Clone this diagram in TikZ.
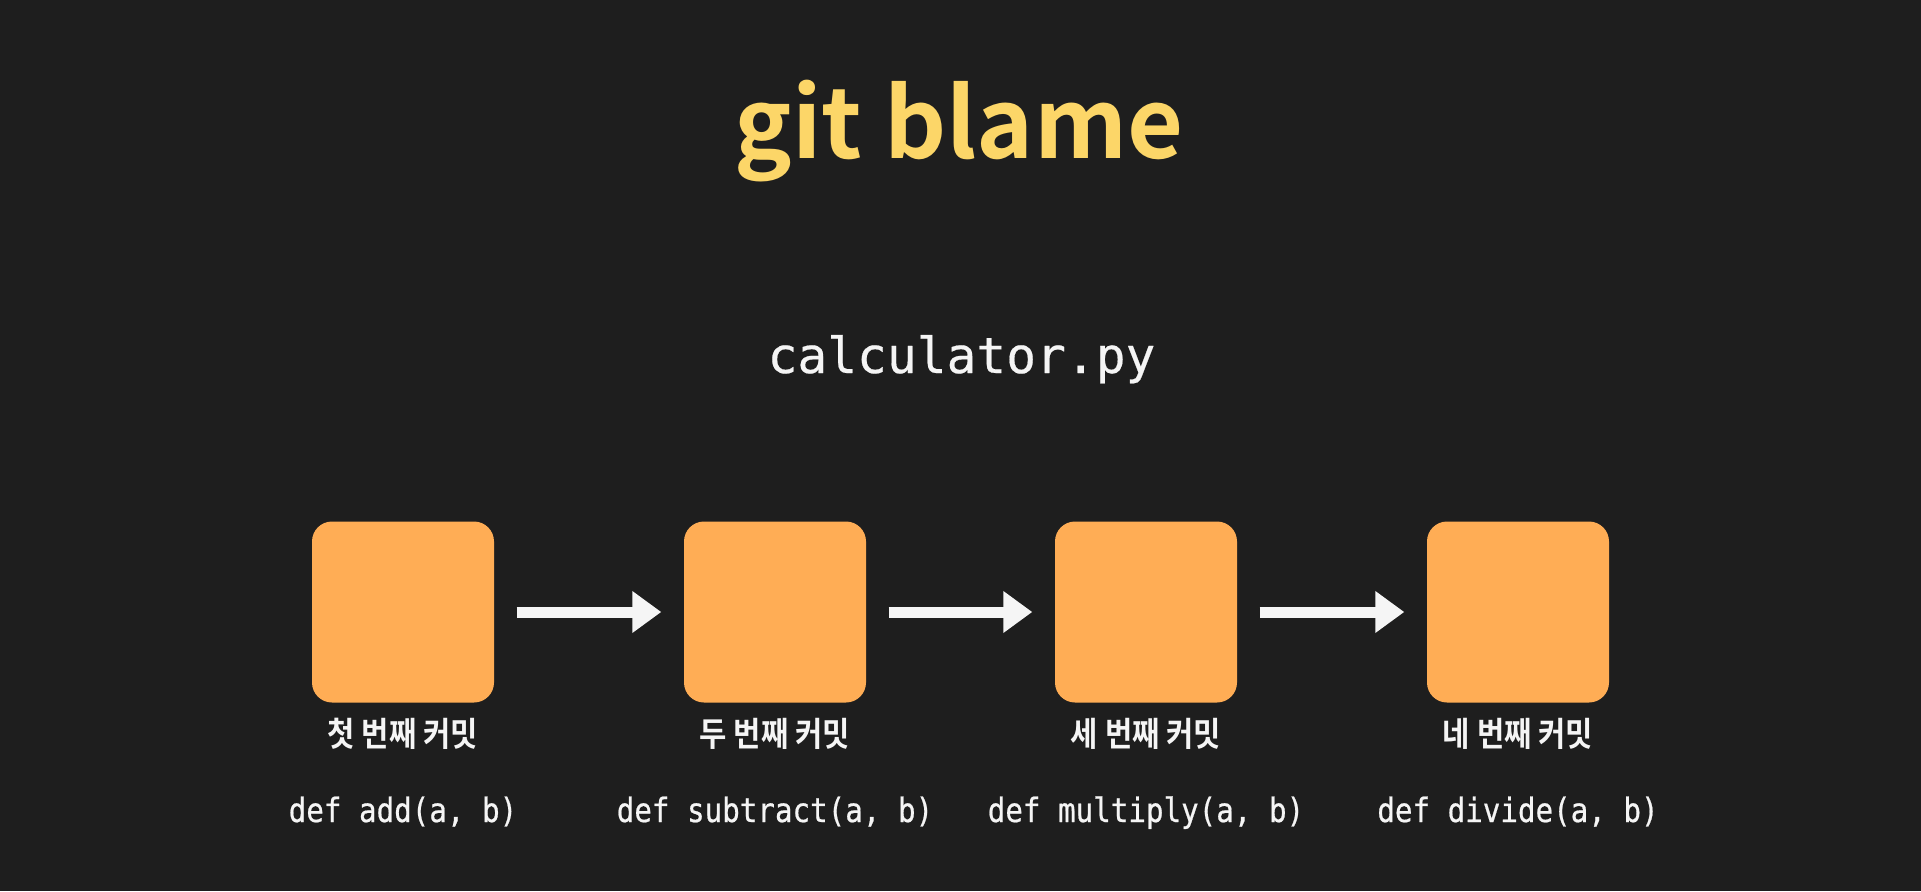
\documentclass[tikz,border=0pt]{standalone}
\usepackage{fontspec}
\usetikzlibrary{arrows.meta}
\newfontfamily\kofont{Noto Sans CJK KR}[BoldFont={Noto Sans CJK KR Bold}]
\newfontfamily\kolabfont{Noto Sans CJK KR Bold}[FakeStretch=0.88]
\newfontfamily\filefont{DejaVu Sans Mono}[FakeBold=0.4]
\newfontfamily\codefont{DejaVu Sans Mono}[FakeStretch=0.87,FakeBold=0.6]
\definecolor{bgdark}{RGB}{30,30,30}
\definecolor{titleyellow}{RGB}{252,214,104}
\definecolor{commitorange}{RGB}{255,173,85}
\definecolor{softwhite}{RGB}{245,245,245}

\begin{document}
\begin{tikzpicture}[
    commit/.style={fill=commitorange,rounded corners=0.2cm,minimum width=1.82cm,minimum height=1.81cm,inner sep=0pt},
    flow/.style={softwhite,line width=0.11cm,-{Triangle[length=0.29cm,width=0.40cm]},shorten <=0.22cm,shorten >=0.22cm},
    commitlabel/.style={text=softwhite,anchor=base,inner sep=0pt,font=\kolabfont\fontsize{9.6}{12}\selectfont},
    codelabel/.style={text=softwhite,anchor=base,inner sep=0pt,font=\codefont\fontsize{9.55}{11}\selectfont}]
    \fill[bgdark](0,0) rectangle (19.21,8.91);
    \node[anchor=base,inner sep=0pt,text=titleyellow,font=\kofont\bfseries\fontsize{27.5}{33}\selectfont] (title) at (9.59,7.33) {git blame};
    \node[anchor=base,inner sep=0pt,text=softwhite,font=\filefont\fontsize{14.1}{17}\selectfont] (file) at (9.615,5.18) {calculator.py};
    % commits
    \node[commit] (cm1) at (4.03,2.79) {};
    \node[commit] (cm2) at (7.75,2.79) {};
    \node[commit] (cm3) at (11.46,2.79) {};
    \node[commit] (cm4) at (15.18,2.79) {};
    \draw[flow](cm1.east)--(cm2.west);
    \draw[flow](cm2.east)--(cm3.west);
    \draw[flow](cm3.east)--(cm4.west);
    \node[commitlabel] (lab1) at (4.03,1.45) {첫 번째 커밋};
    \node[commitlabel] (lab2) at (7.75,1.45) {두 번째 커밋};
    \node[commitlabel] (lab3) at (11.46,1.45) {세 번째 커밋};
    \node[commitlabel] (lab4) at (15.18,1.45) {네 번째 커밋};
    \node[codelabel] (fn1) at (4.03,0.69) {def add(a, b)};
    \node[codelabel] (fn2) at (7.75,0.69) {def subtract(a, b)};
    \node[codelabel] (fn3) at (11.46,0.69) {def multiply(a, b)};
    \node[codelabel] (fn4) at (15.18,0.69) {def divide(a, b)};
\end{tikzpicture}
\end{document}
